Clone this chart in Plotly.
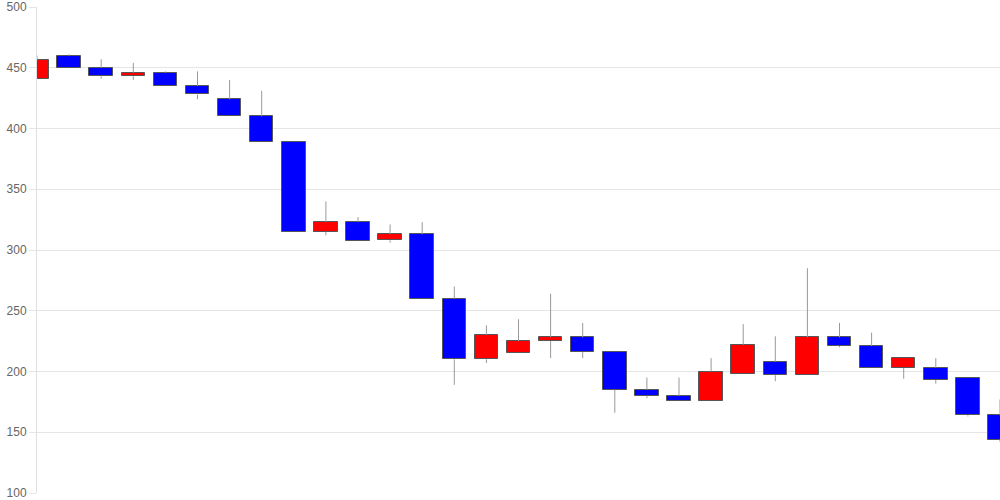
import plotly.graph_objects as go

opens  = [441, 460, 450, 443, 446, 435, 424, 410, 389, 315, 323, 308, 313, 260, 210, 215, 225, 228, 216, 185, 180, 176, 198, 208, 197, 228, 221, 203, 203, 195, 164]
closes = [456, 450, 443, 446, 435, 428, 410, 389, 315, 323, 307, 313, 260, 210, 230, 225, 228, 216, 185, 180, 176, 200, 222, 197, 228, 221, 203, 211, 193, 164, 144]
highs  = [460, 461, 457, 454, 447, 447, 440, 431, 389, 340, 327, 321, 323, 270, 238, 243, 264, 240, 216, 195, 195, 211, 239, 229, 285, 240, 232, 211, 211, 195, 177]
lows   = [441, 450, 441, 440, 435, 424, 410, 389, 315, 312, 307, 306, 260, 189, 207, 215, 211, 211, 166, 178, 176, 176, 198, 192, 197, 220, 203, 194, 190, 163, 142]
y_ticks = [100, 150, 200, 250, 300, 350, 400, 450, 500]

x = list(range(len(opens)))

UP = "#ff0000"
DOWN = "#0000ff"

# wick segments above and below each body
wx, wy = [], []
for i, (o, c, h, l) in enumerate(zip(opens, closes, highs, lows)):
    top, bot = max(o, c), min(o, c)
    if h > top:
        wx += [i, i, None]
        wy += [top, h, None]
    if l < bot:
        wx += [i, i, None]
        wy += [l, bot, None]

bases = [min(o, c) for o, c in zip(opens, closes)]
heights = [abs(c - o) for o, c in zip(opens, closes)]
colors = [UP if c > o else DOWN for o, c in zip(opens, closes)]

fig = go.Figure()
fig.add_trace(go.Scatter(x=wx, y=wy, mode="lines",
                         line=dict(color="#999999", width=1),
                         hoverinfo="skip", showlegend=False))
fig.add_trace(go.Bar(x=x, y=heights, base=bases, width=0.73,
                     marker=dict(color=colors, line=dict(color="#555555", width=1)),
                     showlegend=False))

fig.update_layout(
    width=1000, height=500,
    margin=dict(l=37, r=0, t=6, b=6),
    paper_bgcolor="white", plot_bgcolor="white",
    font=dict(family="Liberation Sans, Arial, sans-serif", size=12, color="#666666"),
    bargap=0,
)
fig.update_xaxes(range=[0, len(opens) - 1], showgrid=False, zeroline=False,
                 showticklabels=False, showline=False, ticks="")
fig.update_yaxes(range=[100, 500], tickvals=y_ticks, ticktext=[str(v) for v in y_ticks],
                 showgrid=True, gridcolor="#e5e5e5", gridwidth=1,
                 zeroline=False, showline=True, linecolor="#e0e0e0", linewidth=1,
                 ticks="outside", ticklen=7, tickcolor="#e5e5e5",
                 ticklabeloverflow="allow",
                 tickfont=dict(size=12, color="#666666"))

fig.write_html("out.html", config={"displayModeBar": False},
               post_script="document.body.style.margin='0';document.body.style.overflow='hidden';")
